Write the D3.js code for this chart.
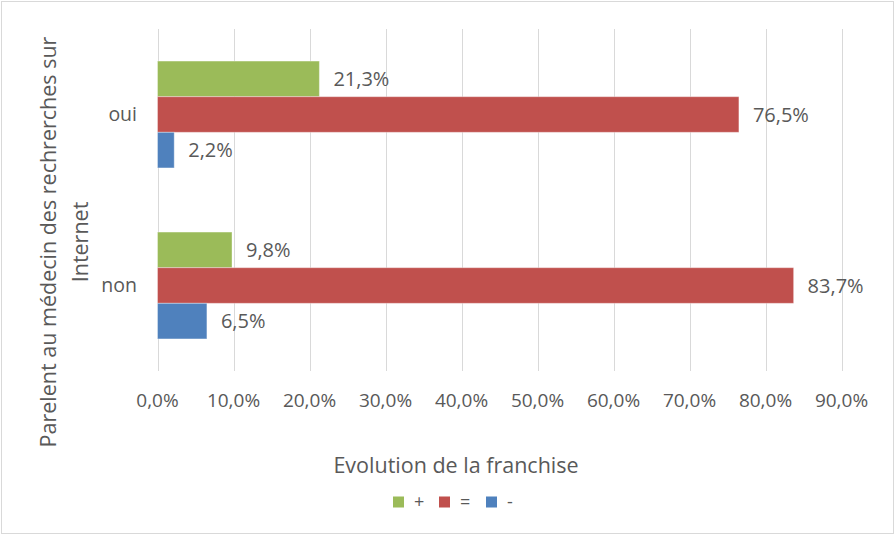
<!DOCTYPE html>
<html><head><meta charset="utf-8">
<script src="https://cdnjs.cloudflare.com/ajax/libs/d3/7.8.5/d3.min.js"></script>
<style>body{margin:0;background:#fff}svg{display:block}text{font-family:"Open Sans",sans-serif;fill:#595959}</style>
</head><body>
<script>
const categories = ["oui", "non"];
const seriesNames = ["+", "=", "-"];
const seriesColors = ["#9BBB59", "#C0504D", "#4F81BD"];
const valuesPlus = [21.3, 9.8];
const valuesEqual = [76.5, 83.7];
const valuesMinus = [2.2, 6.5];
const tickValues = [0, 10, 20, 30, 40, 50, 60, 70, 80, 90];
const xTitle = "Evolution de la franchise";
const yTitleLines = ["Parelent au médecin des rechrerches sur", "Internet"];

const W = 895, H = 535;
const svg = d3.select("body").append("svg").attr("width", W).attr("height", H);
svg.append("rect").attr("x", 1.5).attr("y", 1.5).attr("width", W - 3).attr("height", H - 3)
  .attr("fill", "#fff").attr("stroke", "#d9d9d9").attr("stroke-width", 1);

const plot = {left: 157.5, right: 841.5, top: 29, bottom: 371};
const x = d3.scaleLinear().domain([0, 90]).range([plot.left, plot.right]);
const y = d3.scaleBand().domain(categories).range([plot.top, plot.bottom]);
const inner = d3.scaleBand().domain(seriesNames).range([0, y.bandwidth()]).paddingOuter(0.9);
const fmt = v => v.toFixed(1).replace(".", ",") + "%";

// gridlines
svg.append("g").selectAll("line").data(tickValues).join("line")
  .attr("x1", d => Math.round(x(d)) + 0.5).attr("x2", d => Math.round(x(d)) + 0.5)
  .attr("y1", plot.top).attr("y2", plot.bottom)
  .attr("stroke", "#d9d9d9").attr("stroke-width", 1);

// x axis tick labels
svg.append("g").selectAll("text").data(tickValues).join("text")
  .attr("x", d => x(d)).attr("y", 400).attr("dy", "0.35em")
  .attr("text-anchor", "middle").style("font-size", "19px").text(d => fmt(d));

// category labels
svg.append("g").selectAll("text").data(categories).join("text")
  .attr("x", 137).attr("y", d => y(d) + y.bandwidth() / 2).attr("dy", "0.35em")
  .attr("text-anchor", "end").style("font-size", "19.5px").text(d => d);

const series = [valuesPlus, valuesEqual, valuesMinus];
const data = [];
categories.forEach((c, i) => seriesNames.forEach((s, j) => data.push({c, s, j, v: series[j][i]})));

svg.append("g").selectAll("rect").data(data).join("rect")
  .attr("x", x(0)).attr("y", d => y(d.c) + inner(d.s))
  .attr("width", d => x(d.v) - x(0)).attr("height", inner.bandwidth())
  .attr("fill", d => seriesColors[d.j])
  .attr("stroke", "#fff").attr("stroke-opacity", 0.35).attr("stroke-width", 1);

svg.append("g").selectAll("text").data(data).join("text")
  .attr("x", d => x(d.v) + 14).attr("y", d => y(d.c) + inner(d.s) + inner.bandwidth() / 2)
  .attr("dy", "0.35em").style("font-size", "20px").text(d => fmt(d.v));

// x title
svg.append("text").attr("x", 456).attr("y", 465).attr("dy", "0.35em")
  .attr("text-anchor", "middle").style("font-size", "21.5px").text(xTitle);

// y title
const yt = svg.append("text").attr("transform", "translate(64,242) rotate(-90)")
  .attr("text-anchor", "middle").style("font-size", "21.5px");
yTitleLines.forEach((l, i) => yt.append("tspan").attr("x", 0).attr("y", (i === 0 ? -16 : 16)).attr("dy", "0.35em").text(l));

// legend
const legX = [393, 439, 486];
const lg = svg.append("g").selectAll("g").data(seriesNames).join("g")
  .attr("transform", (d, i) => `translate(${legX[i]},${502})`);
lg.append("rect").attr("x", 0).attr("y", -5.5).attr("width", 11).attr("height", 11)
  .attr("fill", (d, i) => seriesColors[i]);
lg.append("text").attr("x", 21).attr("y", 0).attr("dy", "0.35em").style("font-size", "18px").text(d => d);
</script>
</body></html>
